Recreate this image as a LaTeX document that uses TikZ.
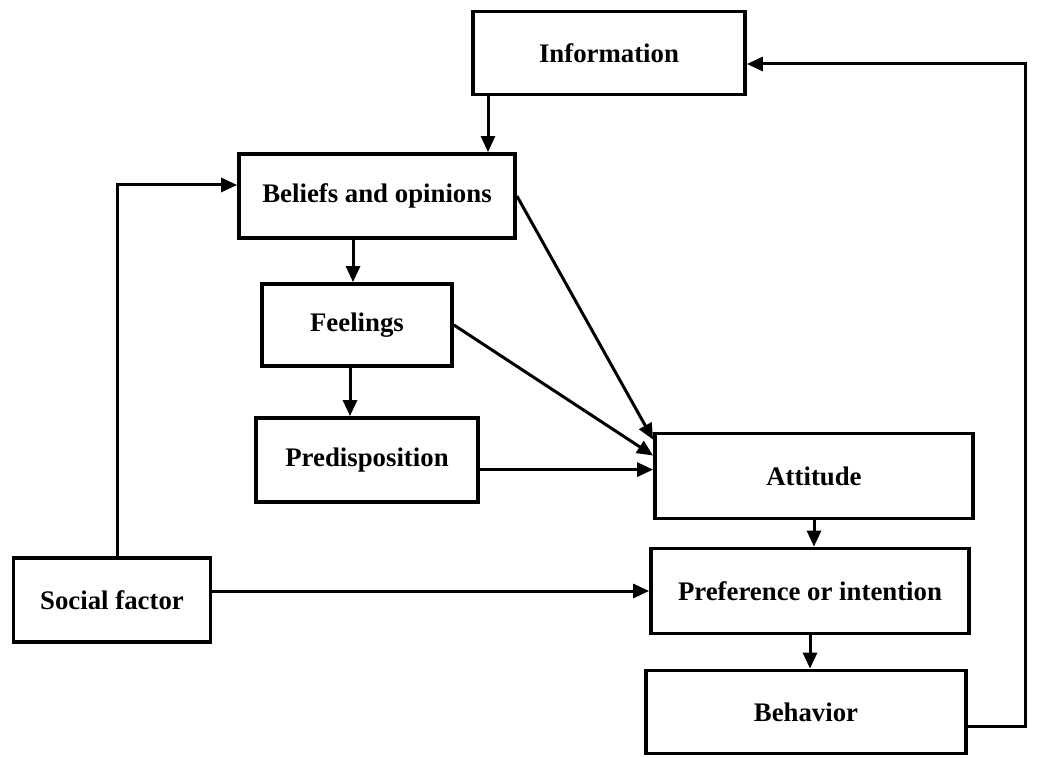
\documentclass[tikz,border=0pt]{standalone}
\usepackage{fontspec}
\setmainfont{Liberation Serif}
\usetikzlibrary{arrows.meta,calc}
\begin{document}
\begin{tikzpicture}[x=0.5pt,y=-0.5pt,
  box/.style={draw,line width=1.9pt,inner sep=0pt,align=center,
    font=\fontsize{13.4}{16}\selectfont\bfseries},
  conn/.style={line width=1.5pt},
  arr/.style={conn,-{Triangle[length=8pt,width=7pt]}}]
\useasboundingbox (0,0) rectangle (1038,758);
\node[box,minimum width=136pt,minimum height=41.5pt] (info) at (609,53) {Information};
\node[box,minimum width=138pt,minimum height=42pt] (beliefs) at (377,196) {Beliefs and opinions};
\node[box,minimum width=95pt,minimum height=41pt] (feel) at (357,325) {Feelings};
\node[box,minimum width=111pt,minimum height=42pt] (predis) at (367,460) {Predisposition};
\node[box,minimum width=159pt,minimum height=42.5pt] (att) at (814,476) {Attitude};
\node[box,minimum width=159pt,minimum height=42.5pt] (pref) at (810,591) {Preference or intention};
\node[box,minimum width=160pt,minimum height=41.5pt] (behav) at (806,712) {Behavior};
\node[box,minimum width=98.5pt,minimum height=42pt] (social) at (112,600) {Social factor};
% coordinates
\coordinate (c1) at (488,0);
\coordinate (c2) at (353,0);
\coordinate (c3) at (350,0);
\coordinate (a1) at ($(att.north west)+(0,8)$);
\coordinate (a2) at ($(att.north west)+(0,24)$);
\coordinate (a3) at ($(att.north west)+(0,38)$);
\coordinate (b1) at ($(beliefs.west)+(0,-11)$);
\coordinate (s1) at ($(social.north)+(5,0)$);
\coordinate (r1) at ($(behav.east)+(0,14)$);
\coordinate (r2) at (1025,0);
\coordinate (i1) at ($(info.east)+(0,11)$);
% connectors
\draw[arr] (info.south -| c1) -- (beliefs.north -| c1);
\draw[arr] (beliefs.south -| c2) -- (feel.north -| c2);
\draw[arr] (feel.south -| c3) -- (predis.north -| c3);
\draw[arr] (beliefs.east) -- (a1);
\draw[arr] (feel.east) -- (a2);
\draw[arr] (predis.east |- a3) -- (a3);
\draw[arr] (social.east |- pref.west) -- (pref.west);
\draw[arr] (s1) |- (b1);
\draw[arr] (att.south) -- (pref.north -| att.south);
\draw[arr] (pref.south) -- (behav.north -| pref.south);
\draw[arr] (r1) -- (r1 -| r2) -- (i1 -| r2) -- (i1);
\end{tikzpicture}
\end{document}
